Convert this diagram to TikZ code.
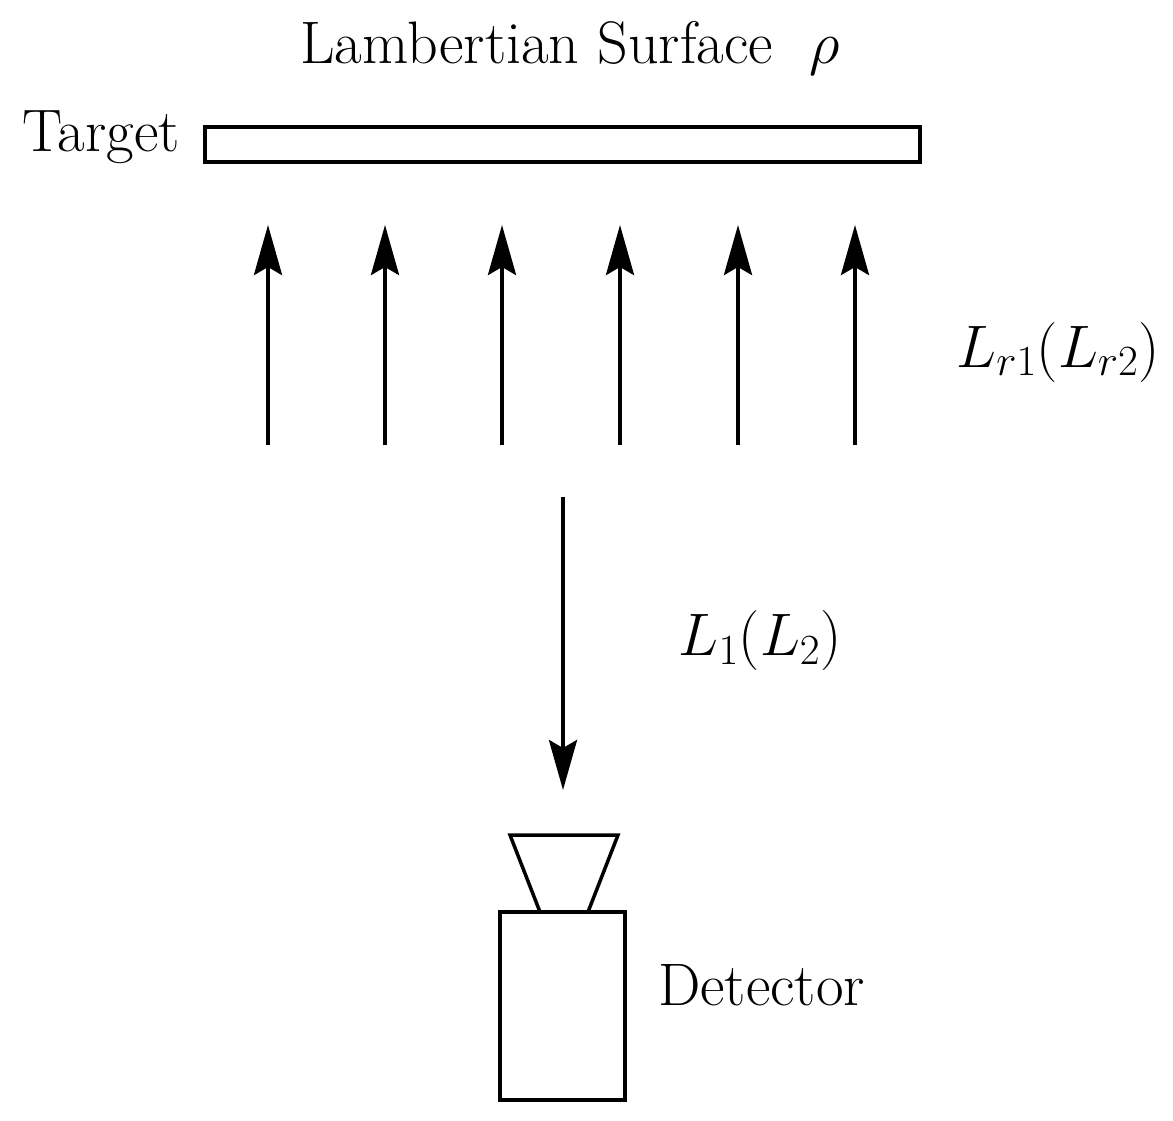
\RequirePackage{fix-cm}
\documentclass[tikz,border=0pt]{standalone}
\usetikzlibrary{arrows.meta}
\DeclareMathSizes{60}{60}{43}{32}
\begin{document}
\begin{tikzpicture}[x=1pt,y=-1pt,
  lbl/.style={font=\fontsize{60}{70}\selectfont, inner sep=0},
  up/.style={line width=4pt,-{Stealth[length=50pt,width=28pt,inset=8pt]}}]
\useasboundingbox (0,0) rectangle (1173,1121);
\node[draw,line width=4pt,minimum width=715pt,minimum height=35pt,inner sep=0] (target) at (562.5,144.5) {};
\node[lbl] (title) at (570,48) {Lambertian Surface \ $\rho$};
\node[lbl,anchor=east] (tl) at (180,137) {Target};
\foreach \x [count=\i] in {268,385,502,620,738,855}{
  \coordinate (b\i) at (\x,445); \coordinate (t\i) at (\x,225);
  \draw[up] (b\i) -- (t\i);}
\node[lbl] (lr) at (1058,352) {$L_{r1}(L_{r2})$};
\coordinate (ds) at (563,497);
\coordinate (de) at (563,790);
\draw[up] (ds) -- (de);
\node[lbl] (l1) at (760,640) {$L_1(L_2)$};
\draw[line width=3.5pt] (510,835) -- (618,835) -- (588,912) -- (540,912) -- cycle;
\node[draw,line width=3.5pt,minimum width=125pt,minimum height=188pt,inner sep=0] (det) at (562.5,1006) {};
\node[lbl,anchor=west] (dl) at (658,985) {Detector};
\end{tikzpicture}
\end{document}
